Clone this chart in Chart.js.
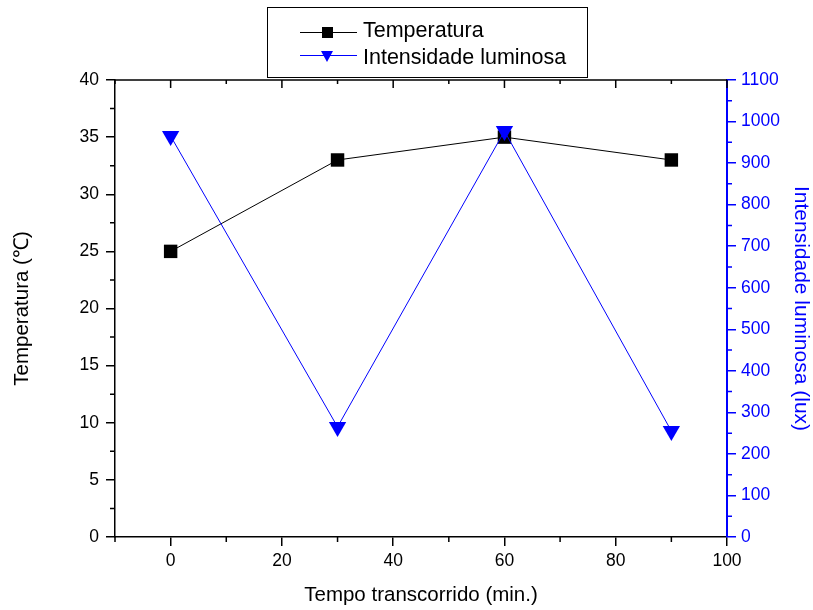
<!DOCTYPE html>
<html>
<head>
    <title>Temperatura e Intensidade luminosa</title>
    <script src="https://cdn.jsdelivr.net/npm/chart.js"></script>
    <style>
        body { margin: 0; background: #fff; }
    </style>
</head>
<body>
    <canvas id="grafico" width="813" height="610"></canvas>

    <script>
        // dados
        const tempos = [0, 30, 60, 90];
        const temperatura = [25, 33, 35, 33];
        const intensidade = [965, 265, 977, 255];

        // marcas dos eixos
        const xTicks = [0, 20, 40, 60, 80, 100];
        const xMinor = [-10, 10, 30, 50, 70, 90];
        const tempTicks = [0, 5, 10, 15, 20, 25, 30, 35, 40];
        const tempMinor = [2.5, 7.5, 12.5, 17.5, 22.5, 27.5, 32.5, 37.5];
        const luzTicks = [0, 100, 200, 300, 400, 500, 600, 700, 800, 900, 1000, 1100];
        const luzMinor = [50, 150, 250, 350, 450, 550, 650, 750, 850, 950, 1050];

        const fonte = 'Liberation Sans, Arial, sans-serif';
        const azul = '#0000ff';

        // traços menores e eixo de cima
        const minorTicks = {
            id: 'minorTicks',
            afterDraw(chart) {
                const { ctx, chartArea: a, scales } = chart;
                ctx.save();
                ctx.lineWidth = 1.5;
                ctx.strokeStyle = '#000';
                ctx.beginPath();
                ctx.moveTo(a.left, a.top);
                ctx.lineTo(a.right, a.top);
                xMinor.forEach(v => {
                    const px = scales.x.getPixelForValue(v);
                    ctx.moveTo(px, a.bottom); ctx.lineTo(px, a.bottom + 5);
                    ctx.moveTo(px, a.top); ctx.lineTo(px, a.top + 4);
                });
                xTicks.forEach(v => {
                    const px = scales.x.getPixelForValue(v);
                    ctx.moveTo(px, a.top); ctx.lineTo(px, a.top + 8);
                });
                tempMinor.forEach(v => {
                    const py = scales.y.getPixelForValue(v);
                    ctx.moveTo(a.left, py); ctx.lineTo(a.left - 5, py);
                });
                ctx.stroke();
                ctx.strokeStyle = azul;
                ctx.beginPath();
                luzMinor.forEach(v => {
                    const py = scales.y1.getPixelForValue(v);
                    ctx.moveTo(a.right, py); ctx.lineTo(a.right + 5, py);
                });
                ctx.stroke();
                ctx.restore();
            }
        };

        // legenda com caixa, como no original
        const legenda = {
            id: 'legenda',
            afterDraw(chart) {
                const ctx = chart.ctx;
                ctx.save();
                ctx.lineWidth = 1;
                ctx.strokeStyle = '#000';
                ctx.strokeRect(267.5, 7.5, 320, 70);

                // Temperatura
                ctx.strokeStyle = '#000';
                ctx.beginPath();
                ctx.moveTo(300, 32.5); ctx.lineTo(357, 32.5);
                ctx.stroke();
                ctx.fillStyle = '#000';
                ctx.fillRect(322, 27, 11, 11);

                // Intensidade luminosa
                ctx.strokeStyle = azul;
                ctx.beginPath();
                ctx.moveTo(300, 55.5); ctx.lineTo(357, 55.5);
                ctx.stroke();
                ctx.fillStyle = azul;
                ctx.beginPath();
                ctx.moveTo(321, 51); ctx.lineTo(333, 51); ctx.lineTo(327, 62);
                ctx.closePath();
                ctx.fill();

                ctx.fillStyle = '#000';
                ctx.font = '21.5px ' + fonte;
                ctx.textBaseline = 'alphabetic';
                ctx.fillText(chart.data.datasets[0].label, 363, 37);
                ctx.fillText(chart.data.datasets[1].label, 363, 64);
                ctx.restore();
            }
        };

        const ctx = document.getElementById('grafico').getContext('2d');
        const grafico = new Chart(ctx, {
            type: 'line',
            data: {
                datasets: [{
                    label: 'Temperatura',
                    data: tempos.map((t, i) => ({ x: t, y: temperatura[i] })),
                    yAxisID: 'y',
                    borderColor: '#000',
                    backgroundColor: '#000',
                    borderWidth: 1,
                    pointStyle: 'rect',
                    pointRadius: 9.5,
                    pointBorderWidth: 0,
                    order: 1
                }, {
                    label: 'Intensidade luminosa',
                    data: tempos.map((t, i) => ({ x: t, y: intensidade[i] })),
                    yAxisID: 'y1',
                    borderColor: azul,
                    backgroundColor: azul,
                    borderWidth: 1,
                    pointStyle: 'triangle',
                    pointRotation: 180,
                    pointRadius: 10,
                    pointBorderWidth: 0,
                    order: 0
                }]
            },
            options: {
                responsive: false,
                animation: false,
                layout: { padding: { top: 80, left: 0, right: 0, bottom: 0 } },
                plugins: {
                    legend: { display: false },
                    tooltip: { enabled: false }
                },
                scales: {
                    x: {
                        type: 'linear',
                        min: -10,
                        max: 100,
                        afterBuildTicks: s => { s.ticks = xTicks.map(v => ({ value: v })); },
                        afterFit: s => { s.height = 73; },
                        ticks: { color: '#000', font: { size: 17.5, family: fonte }, padding: 5, callback: v => String(v) },
                        grid: { drawOnChartArea: false, color: '#000', tickLength: 9, lineWidth: 1.5 },
                        border: { color: '#000', width: 1.5 },
                        title: { display: true, text: 'Tempo transcorrido (min.)', color: '#000', font: { size: 20.5, family: fonte }, padding: { top: 0, bottom: 2.5 } }
                    },
                    y: {
                        position: 'left',
                        min: 0,
                        max: 40,
                        afterBuildTicks: s => { s.ticks = tempTicks.map(v => ({ value: v })); },
                        afterFit: s => { s.width = 115; },
                        ticks: { color: '#000', font: { size: 17.5, family: fonte }, padding: 7, callback: v => String(v) },
                        grid: { drawOnChartArea: false, color: '#000', tickLength: 9, lineWidth: 1.5 },
                        border: { color: '#000', width: 1.5 },
                        title: { display: true, text: 'Temperatura (℃)', color: '#000', font: { size: 20.5, family: fonte }, padding: { top: 10, bottom: 0 } }
                    },
                    y1: {
                        position: 'right',
                        min: 0,
                        max: 1100,
                        afterBuildTicks: s => { s.ticks = luzTicks.map(v => ({ value: v })); },
                        afterFit: s => { s.width = 86; },
                        ticks: { color: azul, font: { size: 17.5, family: fonte }, padding: 5, callback: v => String(v) },
                        grid: { drawOnChartArea: false, color: azul, tickLength: 9, lineWidth: 1.5 },
                        border: { color: azul, width: 2 },
                        title: { display: true, text: 'Intensidade luminosa (lux)', color: azul, font: { size: 21, family: fonte }, padding: { top: 0, bottom: 0 } }
                    }
                }
            },
            plugins: [minorTicks, legenda]
        });
    </script>
</body>
</html>
